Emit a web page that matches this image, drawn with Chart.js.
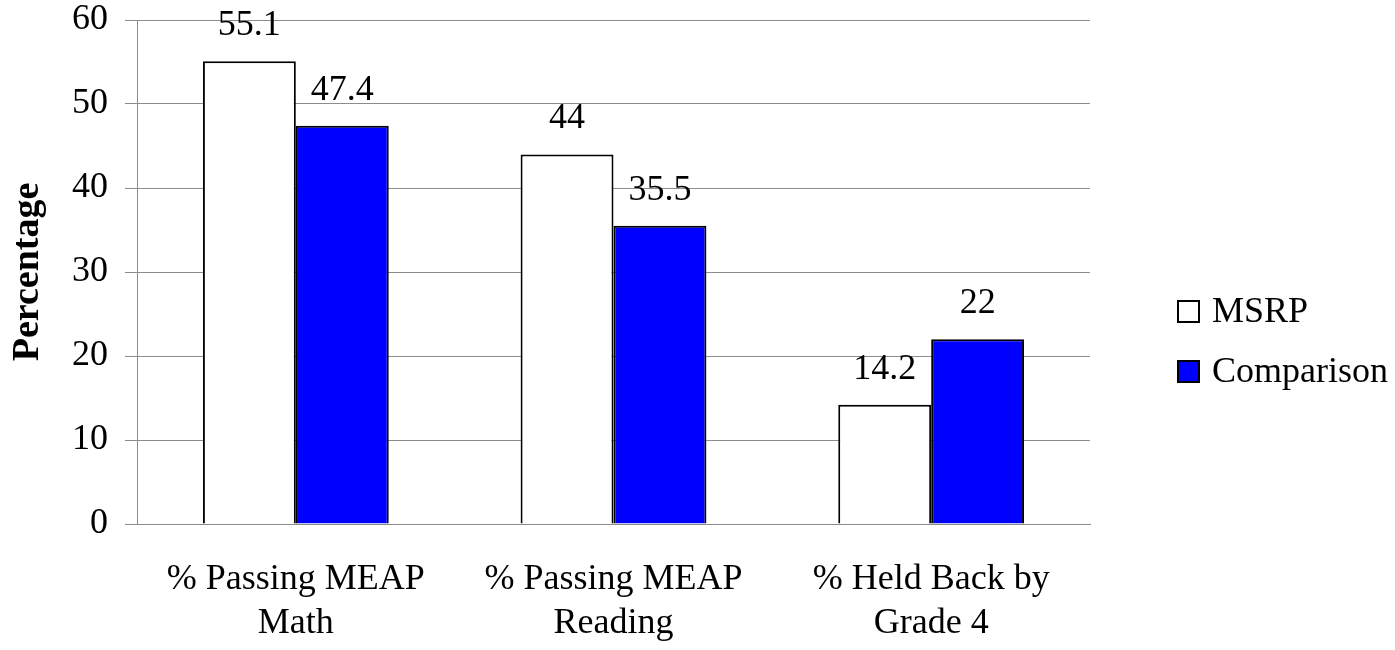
<!DOCTYPE html>
<html>
<head>
<meta charset="utf-8">
<script src="https://cdn.jsdelivr.net/npm/chart.js@4.4.0/dist/chart.umd.min.js"></script>
<style>
  html, body { margin: 0; padding: 0; background: #fff; }
  #wrap { width: 1395px; height: 650px; }
</style>
</head>
<body>
<div id="wrap"><canvas id="myChart"></canvas></div>
<script>
const categories = [['% Passing MEAP', 'Math'], ['% Passing MEAP', 'Reading'], ['% Held Back by', 'Grade 4']];
const seriesNames = ['MSRP', 'Comparison'];
const msrp = [55.1, 44, 14.2];
const comparison = [47.4, 35.5, 22];
const yTicks = [0, 10, 20, 30, 40, 50, 60];

const FONT = "'Liberation Serif', 'Times New Roman', serif";
const FS = 36;

// numbers written above each bar
const valueLabels = {
  id: 'valueLabels',
  afterDatasetsDraw(chart) {
    const ctx = chart.ctx;
    ctx.save();
    ctx.font = FS + 'px ' + FONT;
    ctx.fillStyle = '#000';
    ctx.textAlign = 'center';
    ctx.textBaseline = 'alphabetic';
    chart.data.datasets.forEach((ds, i) => {
      chart.getDatasetMeta(i).data.forEach((bar, j) => {
        ctx.fillText(String(ds.data[j]), bar.x, bar.y - 26);
      });
    });
    ctx.restore();
  }
};

// legend on the right, like the excel one (box + name, well away from the plot)
const sideLegend = {
  id: 'sideLegend',
  afterDraw(chart) {
    const ctx = chart.ctx;
    const area = chart.chartArea;
    const x = area.right + 88;
    let y = area.top + 291;
    ctx.save();
    ctx.font = FS + 'px ' + FONT;
    ctx.textBaseline = 'middle';
    ctx.textAlign = 'left';
    chart.data.datasets.forEach(ds => {
      ctx.fillStyle = ds.backgroundColor;
      ctx.fillRect(x, y - 10, 21, 21);
      ctx.strokeStyle = '#000';
      ctx.lineWidth = 2;
      ctx.strokeRect(x, y - 10, 21, 21);
      ctx.fillStyle = '#000';
      ctx.fillText(ds.label, x + 34, y + 2);
      y += 60;
    });
    ctx.restore();
  }
};

new Chart(document.getElementById('myChart'), {
  type: 'bar',
  data: {
    labels: categories,
    datasets: [
      { label: seriesNames[0], data: msrp, backgroundColor: '#ffffff', borderColor: '#000', borderWidth: 2 },
      { label: seriesNames[1], data: comparison, backgroundColor: '#0000ff', borderColor: '#000', borderWidth: 2 }
    ]
  },
  options: {
    responsive: true,
    maintainAspectRatio: false,
    animation: false,
    layout: { padding: { top: 0, right: 305, left: 3, bottom: 4 } },
    datasets: { bar: { barPercentage: 1, categoryPercentage: 0.585 } },
    plugins: {
      legend: { display: false },
      tooltip: { enabled: false }
    },
    scales: {
      x: {
        grid: { display: false, drawTicks: false },
        border: { color: '#8c8c8c', width: 1 },
        ticks: { font: { family: FONT, size: FS, lineHeight: 1.22 }, color: '#000', padding: 34, maxRotation: 0, autoSkip: false },
        afterFit(axis) { axis.height = 122; axis.paddingLeft = 0; axis.paddingRight = 0; }
      },
      y: {
        min: 0, max: 60,
        afterBuildTicks(axis) { axis.ticks = yTicks.map(v => ({ value: v })); },
        grid: { color: '#8c8c8c', tickLength: 12, lineWidth: 1 },
        border: { color: '#8c8c8c', width: 1 },
        ticks: { font: { family: FONT, size: FS, lineHeight: 1.1 }, color: '#000', padding: 17 },
        title: { display: true, text: 'Percentage', font: { family: FONT, size: 38, weight: 'bold', lineHeight: 1.2 }, color: '#000', padding: { top: 2, bottom: 20 } },
        afterFit(axis) { axis.width = 134; axis.paddingTop = 20; axis.paddingBottom = 0; }
      }
    }
  },
  plugins: [valueLabels, sideLegend]
});
</script>
</body>
</html>
